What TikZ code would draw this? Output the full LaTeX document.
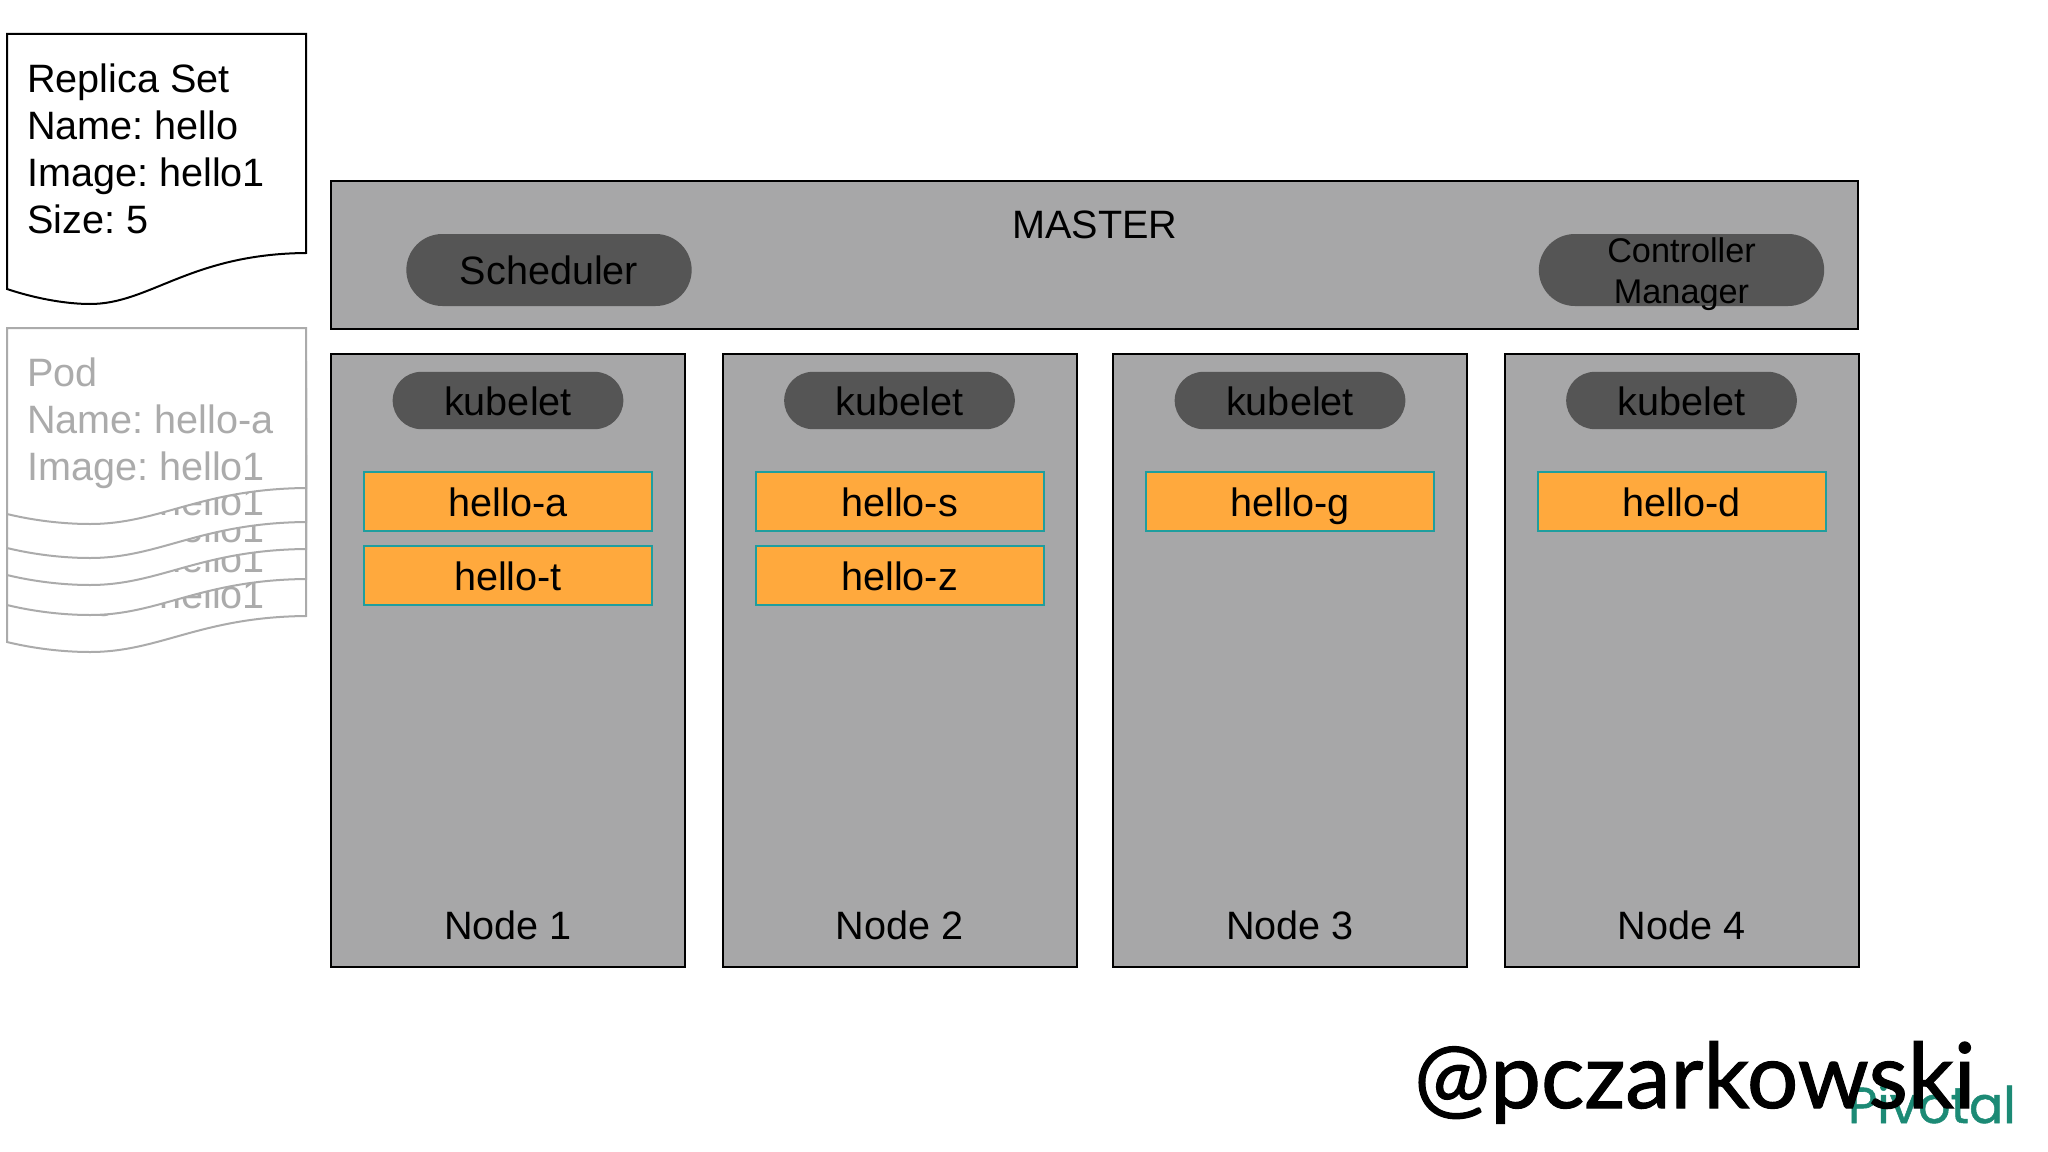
\documentclass[tikz,border=0pt]{standalone}
\usepackage{fontspec}
\setmainfont{Liberation Sans}
\newfontfamily\handlefont[FakeBold=1.2]{Lato}
\newfontfamily\logofont[FakeBold=1]{Poppins}
\usetikzlibrary{shapes.misc}
\frenchspacing
\definecolor{panelgrey}{HTML}{A7A7A8}
\definecolor{pilldark}{HTML}{555555}
\definecolor{podorange}{HTML}{FFA93D}
\definecolor{podteal}{HTML}{1F9E9E}
\definecolor{sheetgrey}{HTML}{ABABAB}
\definecolor{pivotalteal}{HTML}{1C8A75}
\tikzset{
  panel/.style={draw=black,line width=1.5pt,fill=panelgrey,inner sep=0pt},
  pill/.style={rounded rectangle,fill=pilldark,inner sep=0pt,text height=25pt,text depth=3pt,
    font=\fontsize{29.7}{35.25}\selectfont},
  podbox/.style={draw=podteal,line width=1.5pt,fill=podorange,inner sep=0pt,
    minimum width=216pt,minimum height=44pt,text height=25pt,text depth=3pt,
    font=\fontsize{29.7}{35.25}\selectfont},
  sheet/.style={fill=white,line width=1.5pt},
  label/.style={font=\fontsize{29.7}{35.25}\selectfont,inner sep=0pt}
}
\begin{document}
\begin{tikzpicture}[x=.75pt,y=-.75pt]
  \useasboundingbox (0,0) rectangle (2048,1152);

  % replica set sheet
  \path[sheet,draw=black] (7,34) -- (306,34) -- (306,253)
    .. controls (190,254) and (150,304) .. (90,304)
    .. controls (70,304) and (40,300) .. (7,289) -- cycle;
  \node[label,anchor=base west,align=left] (replica) at (27,233.5)
    {Replica Set\\Name: hello\\Image: hello1\\Size: 5};

  % pod sheets, back to front
  \foreach \dy/\yy in {128/608,91/572,61/542,34/515} {
    \path[sheet,draw=sheetgrey] (7,{328+\dy}) -- (306,{328+\dy}) -- (306,{488+\dy})
      .. controls (200,{489+\dy}) and (160,{524+\dy}) .. (90,{524+\dy})
      .. controls (70,{524+\dy}) and (40,{522+\dy}) .. (7,{514+\dy}) -- cycle;
    \node[label,text=sheetgrey,anchor=base west] (pod\dy) at (27,\yy) {Image: hello1};
  }
  \path[sheet,draw=sheetgrey] (7,328) -- (306,328) -- (306,488)
    .. controls (200,489) and (160,524) .. (90,524)
    .. controls (70,524) and (40,522) .. (7,514) -- cycle;
  \node[label,text=sheetgrey,anchor=base west,align=left] (pod) at (27,480)
    {Pod\\Name: hello-a\\Image: hello1};

  % master
  \node[panel,minimum width=1145pt,minimum height=111pt] (master) at (1094.5,255) {};
  \node[label] (mastertext) at (1095,225) {MASTER};
  \node[pill,minimum width=214pt,minimum height=54pt] (scheduler) at (549,270) {Scheduler};
  \node[pill,minimum width=214pt,minimum height=54pt] (controller) at (1681.5,270) {};
  \node[label,align=center,font=\fontsize{25.7}{30.75}\selectfont] (controllertext) at (1681.5,274)
    {Controller\\Manager};

  % worker nodes
  \begin{scope}[every node/.style={panel,minimum width=265.5pt,minimum height=460pt}]
    \node (node1) at (508,660.5) {};
    \node (node2) at (899.5,660.5) {};
    \node (node3) at (1290,660.5) {};
    \node (node4) at (1681.5,660.5) {};
  \end{scope}

  \begin{scope}[every node/.style={pill,minimum width=173pt,minimum height=43pt}]
    \node (kubelet1) at (508,400.5) {kubelet};
    \node (kubelet2) at (899.5,400.5) {kubelet};
    \node (kubelet3) at (1290,400.5) {kubelet};
    \node (kubelet4) at (1681.5,400.5) {kubelet};
  \end{scope}

  \begin{scope}[every node/.style={podbox}]
    \node (helloa) at (508,501.5) {hello-a};
    \node (hellot) at (508,575.5) {hello-t};
    \node (hellos) at (899.5,501.5) {hello-s};
    \node (helloz) at (899.5,575.5) {hello-z};
    \node (hellog) at (1290,501.5) {hello-g};
    \node (hellod) at (1681.5,501.5) {hello-d};
  \end{scope}

  \begin{scope}[every node/.style={label}]
    \node (name1) at (508,925) {Node 1};
    \node (name2) at (899.5,925) {Node 2};
    \node (name3) at (1290,925) {Node 3};
    \node (name4) at (1681.5,925) {Node 4};
  \end{scope}

  % footer
  \node[anchor=base east,inner sep=0pt,text=pivotalteal,font=\logofont\fontsize{38}{40}\selectfont] (pivotal) at (2016,1123) {Pivotal};
  \node[anchor=base west,inner sep=0pt,font=\handlefont\fontsize{68}{70}\selectfont] (handle) at (1414,1108) {@pczarkowski};
\end{tikzpicture}
\end{document}
